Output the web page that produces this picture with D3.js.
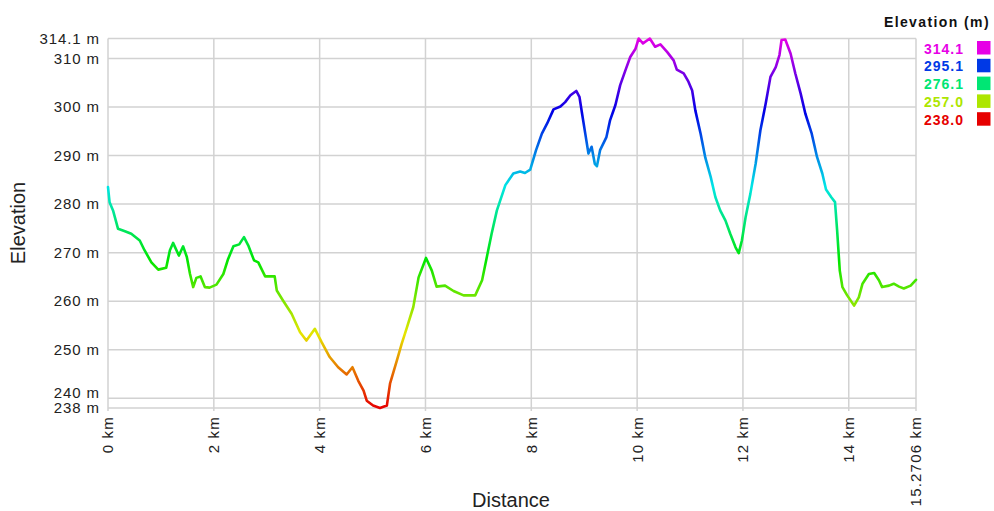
<!DOCTYPE html>
<html>
<head>
<meta charset="utf-8">
<script src="https://cdn.jsdelivr.net/npm/d3@7/dist/d3.min.js"></script>
<style>
  html, body { margin: 0; padding: 0; background: #fff; }
  svg { display: block; font-family: "Liberation Sans", Arial, sans-serif; }
</style>
</head>
<body>
<svg id="chart" width="994" height="511"></svg>
<script>
// ---- Data ----
const distanceKm = [
  0, 0.03, 0.095, 0.19, 0.32, 0.44, 0.60, 0.69, 0.82, 0.95, 1.10, 1.17, 1.23, 1.34, 1.42, 1.49,
  1.55, 1.61, 1.67, 1.75, 1.83, 1.92, 2.05, 2.18, 2.27, 2.37, 2.48, 2.57, 2.65, 2.76, 2.84, 2.97,
  3.15, 3.19, 3.31, 3.47, 3.63, 3.75, 3.91, 4.04, 4.19, 4.35, 4.51, 4.62, 4.73, 4.83, 4.89, 5.01,
  5.14, 5.27, 5.33, 5.46, 5.55, 5.65, 5.77, 5.87, 6.01, 6.12, 6.21, 6.37, 6.53, 6.72, 6.94, 7.07,
  7.16, 7.25, 7.35, 7.51, 7.66, 7.79, 7.88, 7.98, 8.09, 8.20, 8.30, 8.42, 8.55, 8.64, 8.74, 8.85,
  8.91, 8.96, 9.02, 9.08, 9.14, 9.20, 9.24, 9.30, 9.42, 9.49, 9.59, 9.68, 9.78, 9.87, 9.97, 10.03,
  10.11, 10.24, 10.34, 10.44, 10.57, 10.69, 10.75, 10.88, 10.97, 11.04, 11.10, 11.20, 11.29, 11.39,
  11.48, 11.57, 11.67, 11.76, 11.86, 11.92, 11.98, 12.05, 12.14, 12.24, 12.33, 12.43, 12.52, 12.62,
  12.69, 12.73, 12.80, 12.90, 12.99, 13.09, 13.18, 13.30, 13.40, 13.50, 13.57, 13.67, 13.74, 13.78,
  13.83, 13.88, 13.97, 14.10, 14.19, 14.26, 14.38, 14.48, 14.57, 14.63, 14.76, 14.85, 14.95, 15.04,
  15.17, 15.2706
];
const elevationM = [
  283.5, 280.4, 278.7, 274.9, 274.4, 273.9, 272.5, 270.5, 268.0, 266.5, 266.9, 270.5, 272.0, 269.4, 271.3, 269.1,
  265.6, 262.9, 264.8, 265.1, 262.9, 262.8, 263.4, 265.6, 268.7, 271.3, 271.7, 273.2, 271.5, 268.4, 268.0, 265.1,
  265.1, 262.2, 260.1, 257.4, 253.6, 251.9, 254.3, 251.5, 248.5, 246.4, 244.9, 246.4, 243.6, 241.6, 239.5, 238.5,
  238.0, 238.5, 243.0, 247.8, 251.2, 254.6, 258.8, 264.9, 268.9, 266.3, 263.0, 263.2, 262.1, 261.2, 261.2, 264.3,
  269.1, 273.9, 278.7, 283.9, 286.3, 286.7, 286.4, 287.1, 291.1, 294.5, 296.6, 299.5, 300.1, 301.0, 302.4, 303.3,
  302.1, 298.6, 294.5, 290.4, 291.8, 288.3, 287.8, 291.1, 293.8, 297.3, 300.4, 304.5, 307.6, 310.3, 312.0, 314.1,
  313.1, 314.1, 312.4, 312.9, 311.3, 309.6, 307.7, 306.9, 305.2, 303.4, 299.3, 294.5, 289.5, 285.6,
  281.4, 278.7, 276.6, 273.9, 271.1, 269.9, 272.5, 277.3, 282.1, 288.3, 295.2, 300.7, 306.2, 308.2,
  310.7, 313.8, 313.9, 311.0, 306.9, 302.8, 298.6, 294.5, 289.7, 286.3, 283.0, 281.4, 280.4, 274.6,
  266.3, 262.9, 261.2, 259.1, 260.8, 263.6, 265.6, 265.8, 264.3, 262.9, 263.2, 263.6, 263.0, 262.6,
  263.2, 264.4
];
const yTickValues = [238, 240, 250, 260, 270, 280, 290, 300, 310, 314.1];
const yTickLabels = ["238 m", "240 m", "250 m", "260 m", "270 m", "280 m", "290 m", "300 m", "310 m", "314.1 m"];
const xTickValues = [0, 2, 4, 6, 8, 10, 12, 14, 15.2706];
const xTickLabels = ["0 km", "2 km", "4 km", "6 km", "8 km", "10 km", "12 km", "14 km", "15.2706 km"];
const legendValues = [314.1, 295.1, 276.1, 257.0, 238.0];
const legendLabels = ["314.1", "295.1", "276.1", "257.0", "238.0"];
const yAxisTitle = "Elevation";
const xAxisTitle = "Distance";
const legendTitle = "Elevation (m)";

// ---- Layout ----
const svg = d3.select("#chart");
const minE = 238, maxE = 314.1;
const x = d3.scaleLinear().domain([0, 15.2706]).range([108, 916]);
const y = d3.scaleLinear().domain([minE, maxE]).range([408, 38.5]);
const hue = d3.scaleLinear().domain([minE, maxE]).range([0, 300]);
const colorOf = v => d3.hsl(hue(v), 1, 0.45).formatHex();

const gridColor = "#d2d2d2";

// Grid
const grid = svg.append("g");
grid.selectAll("line.h").data(yTickValues).join("line")
  .attr("x1", x.range()[0]).attr("x2", x.range()[1])
  .attr("y1", d => y(d)).attr("y2", d => y(d))
  .attr("stroke", gridColor).attr("stroke-width", 1.5);
grid.selectAll("line.v").data(xTickValues).join("line")
  .attr("x1", d => x(d)).attr("x2", d => x(d))
  .attr("y1", y.range()[1]).attr("y2", y.range()[0] + 3)
  .attr("stroke", gridColor).attr("stroke-width", 1.5);

// Gradient for the line (colour by elevation)
const defs = svg.append("defs");
const grad = defs.append("linearGradient")
  .attr("id", "elevGrad").attr("gradientUnits", "userSpaceOnUse")
  .attr("x1", 0).attr("x2", 0)
  .attr("y1", y(minE)).attr("y2", y(maxE));
d3.range(0, 31).forEach(i => {
  const t = i / 30;
  grad.append("stop").attr("offset", t)
    .attr("stop-color", colorOf(minE + t * (maxE - minE)));
});

const points = distanceKm.map((d, i) => [d, elevationM[i]]);
const line = d3.line().x(d => x(d[0])).y(d => y(d[1]));
svg.append("path")
  .attr("d", line(points))
  .attr("fill", "none")
  .attr("stroke", "url(#elevGrad)")
  .attr("stroke-width", 2.6)
  .attr("stroke-linejoin", "round")
  .attr("stroke-linecap", "round");

// Y axis
const yAxis = d3.axisLeft(y).tickValues(yTickValues)
  .tickFormat((d, i) => yTickLabels[i]).tickSize(0).tickPadding(8);
const gy = svg.append("g").attr("transform", `translate(${x.range()[0]},0)`).call(yAxis);
gy.select(".domain").remove();
gy.selectAll("text").attr("font-size", 15).attr("fill", "#222")
  .attr("letter-spacing", "0.9px")
  .attr("font-family", "'Liberation Sans', Arial, sans-serif");
// nudge the 240 label up so it does not collide with 238 (as in the reference)
gy.selectAll(".tick").filter(d => d === 240).select("text").attr("y", -6);

// X tick labels (rotated)
svg.append("g").selectAll("text").data(xTickValues).join("text")
  .attr("transform", d => `translate(${x(d)},${y.range()[0] + 8}) rotate(-90)`)
  .attr("text-anchor", "end")
  .attr("dy", "0.36em")
  .attr("font-size", 15).attr("fill", "#222")
  .attr("letter-spacing", "1.2px")
  .text((d, i) => xTickLabels[i]);

// Axis titles
svg.append("text")
  .attr("transform", `translate(25,223) rotate(-90)`)
  .attr("text-anchor", "middle")
  .attr("font-size", 20).attr("fill", "#222")
  .text(yAxisTitle);
svg.append("text")
  .attr("x", 511).attr("y", 507)
  .attr("text-anchor", "middle")
  .attr("font-size", 20).attr("fill", "#222")
  .text(xAxisTitle);

// Legend
svg.append("text")
  .attr("x", 990).attr("y", 27)
  .attr("text-anchor", "end")
  .attr("font-size", 14).attr("font-weight", "bold")
  .attr("letter-spacing", "1.4px")
  .attr("fill", "#111")
  .text(legendTitle);
const lg = svg.append("g");
legendValues.forEach((v, i) => {
  const top = 41 + i * 17.8;
  lg.append("rect")
    .attr("x", 977).attr("y", top).attr("width", 13.5).attr("height", 13.5)
    .attr("fill", colorOf(v));
  lg.append("text")
    .attr("x", 964).attr("y", top + 12.5)
    .attr("text-anchor", "end")
    .attr("font-size", 14).attr("font-weight", "bold")
    .attr("letter-spacing", "1px")
    .attr("fill", colorOf(v))
    .text(legendLabels[i]);
});
</script>
</body>
</html>
